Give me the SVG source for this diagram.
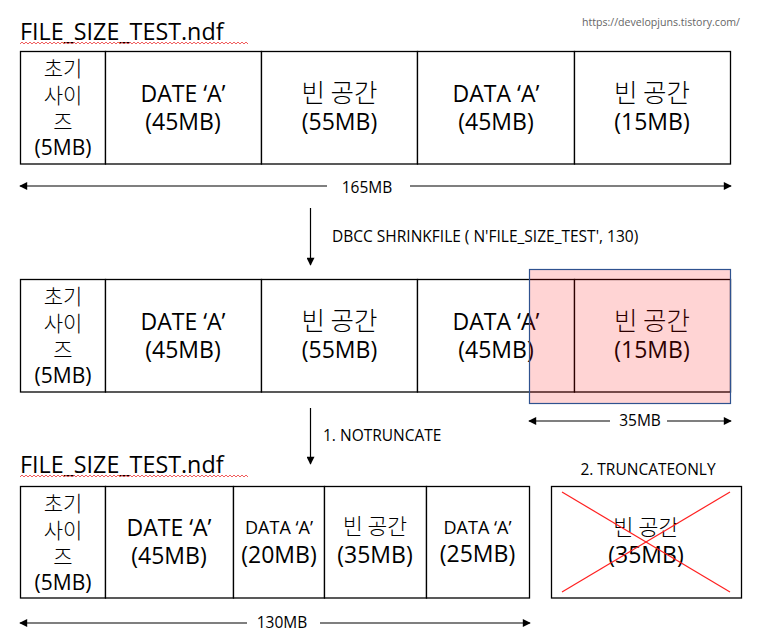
<svg xmlns="http://www.w3.org/2000/svg" width="764" height="640" viewBox="0 0 764 640">
<defs>
<style>
text{font-family:"Open Sans","Noto Sans CJK KR",sans-serif;fill:#000}
.ko{font-family:"Noto Sans CJK KR",sans-serif;font-weight:300}
.cell{fill:#fff;stroke:#000;stroke-width:1.3}
.big{font-size:23px;text-anchor:middle}
.kbig{font-size:25.5px;text-anchor:middle}
.mid{font-size:21px;text-anchor:middle}
.sm{font-size:18px;text-anchor:middle}
.lbl{font-size:15.5px}
.ttl{font-size:23.3px}
.ln{stroke:#000;stroke-width:1.2;fill:none}
.wave{fill:none;stroke:#e33;stroke-width:0.8}
</style>
<marker id="ah" viewBox="0 0 10 10" refX="9" refY="5" markerWidth="10" markerHeight="8" markerUnits="userSpaceOnUse" orient="auto">
<path d="M0,0 L10,5 L0,10 z" fill="#000"/>
</marker>
</defs>
<rect width="764" height="640" fill="#fff"/>
<text x="740" y="26" font-size="10.6" text-anchor="end" style="fill:#666">https://developjuns.tistory.com/</text>

<!-- Title 1 -->
<g id="title1">
<text class="ttl" x="20" y="40">FILE_SIZE_TEST.ndf</text>
<path class="wave" d="M20,44 l2,-2 l2,2 l2,-2 l2,2 l2,-2 l2,2 l2,-2 l2,2 l2,-2 l2,2 l2,-2 l2,2 l2,-2 l2,2 l2,-2 l2,2 l2,-2 l2,2 l2,-2 l2,2 l2,-2 l2,2 l2,-2 l2,2 l2,-2 l2,2 l2,-2 l2,2 l2,-2 l2,2 l2,-2 l2,2 l2,-2 l2,2 l2,-2 l2,2 l2,-2 l2,2 l2,-2 l2,2 l2,-2 l2,2 l2,-2 l2,2 l2,-2 l2,2 l2,-2 l2,2 l2,-2 l2,2 l2,-2 l2,2 l2,-2 l2,2 l2,-2 l2,2 l2,-2 l2,2 l2,-2 l2,2 l2,-2 l2,2 l2,-2 l2,2 l2,-2 l2,2 l2,-2 l2,2 l2,-2 l2,2 l2,-2 l2,2 l2,-2 l2,2 l2,-2 l2,2 l2,-2 l2,2 l2,-2 l2,2 l2,-2 l2,2 l2,-2 l2,2 l2,-2 l2,2 l2,-2 l2,2 l2,-2 l2,2 l2,-2 l2,2 l2,-2 l2,2 l2,-2 l2,2 l2,-2 l2,2 l2,-2 l2,2 l2,-2 l2,2 l2,-2 l2,2 l2,-2 l2,2 l2,-2 l2,2 l2,-2 l2,2 l2,-2 l2,2 l2,-2 l2,2"/>
</g>

<!-- Row 1 -->
<g id="r1-init">
<rect class="cell" x="20.5" y="51.5" width="85" height="112.5"/>
<text class="mid ko" x="63" y="76">초기</text>
<text class="mid ko" x="63" y="103">사이</text>
<text class="mid ko" x="63" y="129">즈</text>
<text class="mid" x="63" y="155">(5MB)</text>
</g>
<g id="r1-data1">
<rect class="cell" x="105.5" y="51.5" width="156" height="112.5"/>
<text class="big" x="183" y="101.5">DATE ‘A’</text>
<text class="big" x="183" y="129.5">(45MB)</text>
</g>
<g id="r1-free1">
<rect class="cell" x="261.5" y="51.5" width="156" height="112.5"/>
<text class="kbig ko" x="339.5" y="101.5">빈 공간</text>
<text class="big" x="339.5" y="129.5">(55MB)</text>
</g>
<g id="r1-data2">
<rect class="cell" x="417.5" y="51.5" width="157" height="112.5"/>
<text class="big" x="496" y="101.5">DATA ‘A’</text>
<text class="big" x="496" y="129.5">(45MB)</text>
</g>
<g id="r1-free2">
<rect class="cell" x="574.5" y="51.5" width="156" height="112.5"/>
<text class="kbig ko" x="652" y="101.5">빈 공간</text>
<text class="big" x="652" y="129.5">(15MB)</text>
</g>

<!-- Row 2 -->
<g id="r2-init">
<rect class="cell" x="20.5" y="279.5" width="85" height="112.5"/>
<text class="mid ko" x="63" y="304">초기</text>
<text class="mid ko" x="63" y="331">사이</text>
<text class="mid ko" x="63" y="357">즈</text>
<text class="mid" x="63" y="383">(5MB)</text>
</g>
<g id="r2-data1">
<rect class="cell" x="105.5" y="279.5" width="156" height="112.5"/>
<text class="big" x="183" y="329.5">DATE ‘A’</text>
<text class="big" x="183" y="357.5">(45MB)</text>
</g>
<g id="r2-free1">
<rect class="cell" x="261.5" y="279.5" width="156" height="112.5"/>
<text class="kbig ko" x="339.5" y="329.5">빈 공간</text>
<text class="big" x="339.5" y="357.5">(55MB)</text>
</g>
<g id="r2-data2">
<rect class="cell" x="417.5" y="279.5" width="157" height="112.5"/>
<text class="big" x="496" y="329.5">DATA ‘A’</text>
<text class="big" x="496" y="357.5">(45MB)</text>
</g>
<g id="r2-free2">
<rect class="cell" x="574.5" y="279.5" width="156" height="112.5"/>
<text class="kbig ko" x="652" y="329.5">빈 공간</text>
<text class="big" x="652" y="357.5">(15MB)</text>
</g>
<g id="shrink-area">
<rect x="529.5" y="269.5" width="201" height="134" fill="#ff0000" fill-opacity="0.17" stroke="#2f528f" stroke-width="1.2"/>
</g>

<!-- Title 2 -->
<g id="title2">
<text class="ttl" x="20" y="473">FILE_SIZE_TEST.ndf</text>
<path class="wave" d="M20,477 l2,-2 l2,2 l2,-2 l2,2 l2,-2 l2,2 l2,-2 l2,2 l2,-2 l2,2 l2,-2 l2,2 l2,-2 l2,2 l2,-2 l2,2 l2,-2 l2,2 l2,-2 l2,2 l2,-2 l2,2 l2,-2 l2,2 l2,-2 l2,2 l2,-2 l2,2 l2,-2 l2,2 l2,-2 l2,2 l2,-2 l2,2 l2,-2 l2,2 l2,-2 l2,2 l2,-2 l2,2 l2,-2 l2,2 l2,-2 l2,2 l2,-2 l2,2 l2,-2 l2,2 l2,-2 l2,2 l2,-2 l2,2 l2,-2 l2,2 l2,-2 l2,2 l2,-2 l2,2 l2,-2 l2,2 l2,-2 l2,2 l2,-2 l2,2 l2,-2 l2,2 l2,-2 l2,2 l2,-2 l2,2 l2,-2 l2,2 l2,-2 l2,2 l2,-2 l2,2 l2,-2 l2,2 l2,-2 l2,2 l2,-2 l2,2 l2,-2 l2,2 l2,-2 l2,2 l2,-2 l2,2 l2,-2 l2,2 l2,-2 l2,2 l2,-2 l2,2 l2,-2 l2,2 l2,-2 l2,2 l2,-2 l2,2 l2,-2 l2,2 l2,-2 l2,2 l2,-2 l2,2 l2,-2 l2,2 l2,-2 l2,2 l2,-2 l2,2 l2,-2 l2,2"/>
</g>

<!-- Row 3 -->
<g id="r3-init">
<rect class="cell" x="20.5" y="486.5" width="85" height="111.5"/>
<text class="mid ko" x="63" y="510.5">초기</text>
<text class="mid ko" x="63" y="537.5">사이</text>
<text class="mid ko" x="63" y="563.5">즈</text>
<text class="mid" x="63" y="589.5">(5MB)</text>
</g>
<g id="r3-data1">
<rect class="cell" x="105.5" y="486.5" width="128" height="111.5"/>
<text class="big" x="169" y="536">DATE ‘A’</text>
<text class="big" x="169" y="564">(45MB)</text>
</g>
<g id="r3-data2">
<rect class="cell" x="233.5" y="486.5" width="91" height="111.5"/>
<text class="sm" x="279" y="534">DATA ‘A’</text>
<text class="big" x="279" y="563">(20MB)</text>
</g>
<g id="r3-free">
<rect class="cell" x="324.5" y="486.5" width="102" height="111.5"/>
<text class="ko" x="375" y="534" font-size="21.5" text-anchor="middle">빈 공간</text>
<text class="big" x="375" y="563">(35MB)</text>
</g>
<g id="r3-data3">
<rect class="cell" x="426.5" y="486.5" width="103" height="111.5"/>
<text class="sm" x="477.5" y="534">DATA ‘A’</text>
<text class="big" x="477.5" y="562">(25MB)</text>
</g>
<g id="truncated">
<text class="lbl" x="648" y="475" text-anchor="middle">2. TRUNCATEONLY</text>
<rect class="cell" x="551.5" y="486.5" width="190" height="111.5"/>
<text class="ko" x="646" y="535" font-size="22" text-anchor="middle">빈 공간</text>
<text class="big" x="646" y="563">(35MB)</text>
<line x1="562" y1="492" x2="730" y2="592" stroke="#ff2020" stroke-width="1.2"/>
<line x1="562" y1="592" x2="730" y2="492" stroke="#ff2020" stroke-width="1.2"/>
</g>

<!-- Connectors -->
<g id="connectors">
<line class="ln" x1="327" y1="186" x2="20" y2="186" marker-end="url(#ah)"/>
<line class="ln" x1="410" y1="186" x2="731" y2="186" marker-end="url(#ah)"/>
<text class="lbl" x="367" y="193" text-anchor="middle">165MB</text>

<line class="ln" x1="310.5" y1="208" x2="310.5" y2="265" marker-end="url(#ah)"/>
<text class="lbl" x="332" y="242">DBCC SHRINKFILE ( N'FILE_SIZE_TEST', 130)</text>

<line class="ln" x1="610" y1="421" x2="529" y2="421" marker-end="url(#ah)"/>
<line class="ln" x1="667" y1="421" x2="731" y2="421" marker-end="url(#ah)"/>
<text class="lbl" x="640" y="426" text-anchor="middle">35MB</text>

<line class="ln" x1="310.5" y1="408" x2="310.5" y2="464" marker-end="url(#ah)"/>
<text class="lbl" x="323" y="441">1. NOTRUNCATE</text>

<line class="ln" x1="247" y1="623" x2="20" y2="623" marker-end="url(#ah)"/>
<line class="ln" x1="320" y1="623" x2="530" y2="623" marker-end="url(#ah)"/>
<text class="lbl" x="282" y="628" text-anchor="middle">130MB</text>
</g>
</svg>
